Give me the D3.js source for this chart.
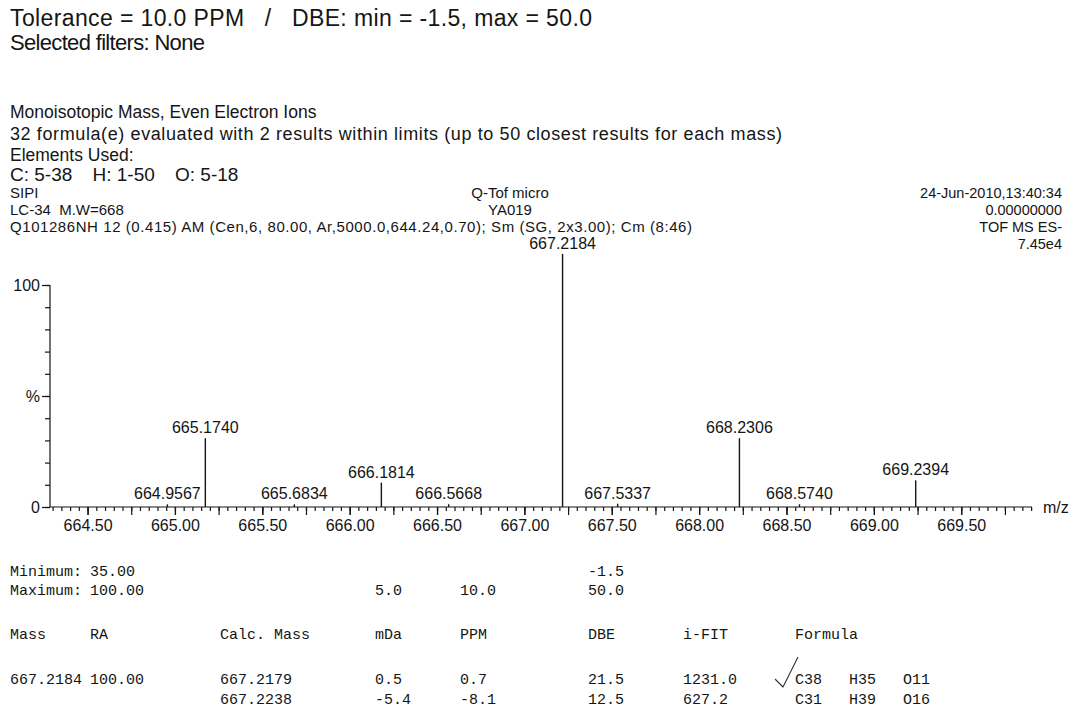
<!DOCTYPE html>
<html>
<head>
<meta charset="utf-8">
<script src="https://cdn.jsdelivr.net/npm/d3@7/dist/d3.min.js"></script>
<style>
  html, body { margin: 0; padding: 0; background: #fff; }
  svg { display: block; }
  text { fill: #151515; white-space: pre; }
  .sans { font-family: "Liberation Sans", Arial, Helvetica, sans-serif; }
  .mono { font-family: "Liberation Mono", "Courier New", monospace; }
</style>
</head>
<body>
<svg id="chart" width="1073" height="719"></svg>
<script>
// ---- Report header -------------------------------------------------------
const searchLines = [
  "Tolerance = 10.0 PPM   /   DBE: min = -1.5, max = 50.0",
  "Selected filters: None"
];
const methodLines = [
  "Monoisotopic Mass, Even Electron Ions",
  "32 formula(e) evaluated with 2 results within limits (up to 50 closest results for each mass)",
  "Elements Used:"
];
const elementRanges = ["C: 5-38", "H: 1-50", "O: 5-18"];
const runLeft   = ["SIPI", "LC-34  M.W=668", "Q101286NH 12 (0.415) AM (Cen,6, 80.00, Ar,5000.0,644.24,0.70); Sm (SG, 2x3.00); Cm (8:46)"];
const runCenter = ["Q-Tof micro", "YA019"];
const runRight  = ["24-Jun-2010,13:40:34", "0.00000000", "TOF MS ES-", "7.45e4"];

// ---- Spectrum (centroided peaks, % relative intensity) -------------------
const peakMz  = [664.9567, 665.1740, 665.6834, 666.1814, 666.5668, 667.2184, 667.5337, 668.2306, 668.5740, 669.2394];
const peakInt = [1.2, 31.0, 1.2, 11.0, 1.2, 114.0, 1.5, 31.0, 1.2, 12.0];

const mzDomain = [664.285, 669.905];
const mzLabelTicks = [664.5, 665.0, 665.5, 666.0, 666.5, 667.0, 667.5, 668.0, 668.5, 669.0, 669.5];
const yLabelTicks = [0, 50, 100];
const yLabelText  = ["0", "%", "100"];

// ---- Elemental composition results -------------------------------------
const limitNames = ["Minimum:", "Maximum:"];
const limitRA    = ["35.00", "100.00"];
const limitMDa   = ["", "5.0"];
const limitPPM   = ["", "10.0"];
const limitDBE   = ["-1.5", "50.0"];

const tableHeader = ["Mass", "RA", "Calc. Mass", "mDa", "PPM", "DBE", "i-FIT", "Formula"];
const resMass    = ["667.2184", ""];
const resRA      = ["100.00", ""];
const resCalc    = ["667.2179", "667.2238"];
const resMDa     = ["0.5", "-5.4"];
const resPPM     = ["0.7", "-8.1"];
const resDBE     = ["21.5", "12.5"];
const resIFit    = ["1231.0", "627.2"];
const resFormula = ["C38   H35   O11", "C31   H39   O16"];
const selectedRow = 0;

// -------------------------------------------------------------------------
const svg = d3.select("#chart");

function put(x, y, str, size, cls, anchor, span) {
  const t = svg.append("text")
    .attr("class", cls || "sans")
    .attr("x", x).attr("y", y)
    .attr("font-size", size)
    .attr("text-anchor", anchor || "start")
    .text(str);
  if (span) t.attr("textLength", span).attr("lengthAdjust", "spacing");
  return t;
}

// header block
put(10, 26, searchLines[0], 23, "sans", "start", 582);
put(10, 50, searchLines[1], 22, "sans", "start", 195);
put(10, 118, methodLines[0], 17.5);
put(10, 140, methodLines[1], 18, "sans", "start", 772);
put(10, 161, methodLines[2], 17.5);
elementRanges.forEach((s, i) => put(10 + i * 82.5, 181, s, 19));
put(10, 198, runLeft[0], 15);
put(10, 215, runLeft[1], 15);
put(10, 232, runLeft[2], 15, "sans", "start", 682);
runCenter.forEach((s, i) => put(510, 198 + i * 17, s, 15, "sans", "middle"));
runRight.forEach((s, i) => put(1062, 198 + i * 17, s, 14.5, "sans", "end"));

// spectrum frame
const plot = { left: 50, right: 1032, top: 285, bottom: 507 };
const x = d3.scaleLinear().domain(mzDomain).range([plot.left, plot.right]);
const y = d3.scaleLinear().domain([0, 100]).range([plot.bottom, plot.top]);

const g = svg.append("g");

// x axis: fine ticks every 0.05, longer ones every 0.25, labels every 0.50
const fine = d3.range(Math.ceil(mzDomain[0] / 0.05) * 0.05, mzDomain[1], 0.05);
const mid  = d3.range(Math.ceil(mzDomain[0] / 0.25) * 0.25, mzDomain[1], 0.25);

g.append("g").attr("transform", `translate(0,${plot.bottom})`)
  .call(d3.axisBottom(x).tickValues(fine).tickSize(4).tickFormat(""))
  .call(a => a.select(".domain").remove());
g.append("g").attr("transform", `translate(0,${plot.bottom})`)
  .call(d3.axisBottom(x).tickValues(mid).tickSize(8).tickFormat(""))
  .call(a => a.select(".domain").remove());
g.append("g").attr("transform", `translate(0,${plot.bottom})`)
  .call(d3.axisBottom(x).tickValues(mzLabelTicks).tickSize(8).tickPadding(5).tickFormat(d3.format(".2f")))
  .call(a => a.select(".domain").attr("d", `M${plot.left},0H${plot.right}`))
  .call(a => a.selectAll("text").attr("class", "sans").attr("font-size", 16).attr("fill", "#151515"));

put(plot.right + 11, plot.bottom + 6, "m/z", 16);

// y axis: ticks every 10 %, labelled at 0, 50 and 100
g.append("g").attr("transform", `translate(${plot.left},0)`)
  .call(d3.axisLeft(y).tickValues(d3.range(0, 101, 10)).tickSize(5).tickFormat(""))
  .call(a => a.select(".domain").attr("d", `M0,${plot.bottom}V${plot.top}`));
g.append("g").attr("transform", `translate(${plot.left},0)`)
  .call(d3.axisLeft(y).tickValues(yLabelTicks).tickSize(8).tickPadding(2)
        .tickFormat((d, i) => yLabelText[i]))
  .call(a => a.select(".domain").remove())
  .call(a => a.selectAll("text").attr("class", "sans").attr("font-size", 16).attr("fill", "#151515"));

svg.selectAll(".tick line, .domain").attr("stroke", "#151515").attr("stroke-width", 1.2);

// peaks
const peaks = peakMz.map((m, i) => ({ mz: m, v: peakInt[i] }));
g.selectAll("line.peak").data(peaks).join("line")
  .attr("class", "peak")
  .attr("x1", d => x(d.mz)).attr("x2", d => x(d.mz))
  .attr("y1", y(0)).attr("y2", d => y(d.v))
  .attr("stroke", "#151515").attr("stroke-width", 1.4);

g.selectAll("text.plabel").data(peaks).join("text")
  .attr("class", "plabel sans")
  .attr("x", d => x(d.mz))
  .attr("y", d => y(d.v) - 5)
  .attr("text-anchor", "middle")
  .attr("font-size", 16)
  .attr("fill", "#151515")
  .text(d => d.mz.toFixed(4));

// ---- results table ----
const col = [10, 90, 220, 375, 460, 588, 683, 795];
const mono = 15;
limitNames.forEach((s, i) => {
  const yy = 576 + i * 19;
  [s, limitRA[i], "", limitMDa[i], limitPPM[i], limitDBE[i]].forEach((t, c) => {
    if (t) put(col[c], yy, t, mono, "mono");
  });
});
tableHeader.forEach((t, c) => put(col[c], 639, t, mono, "mono"));
resCalc.forEach((_, r) => {
  const yy = 684 + r * 20;
  [resMass[r], resRA[r], resCalc[r], resMDa[r], resPPM[r], resDBE[r], resIFit[r], resFormula[r]]
    .forEach((t, c) => { if (t) put(col[c], yy, t, mono, "mono"); });
});

// hand-drawn tick beside the chosen formula
const ry = 684 + selectedRow * 20;
svg.append("path")
  .attr("d", `M${col[7] - 20},${ry - 5} L${col[7] - 12},${ry + 3} L${col[7] + 3},${ry - 27}`)
  .attr("fill", "none").attr("stroke", "#333").attr("stroke-width", 1.1)
  .attr("stroke-linejoin", "round");
</script>
</body>
</html>
